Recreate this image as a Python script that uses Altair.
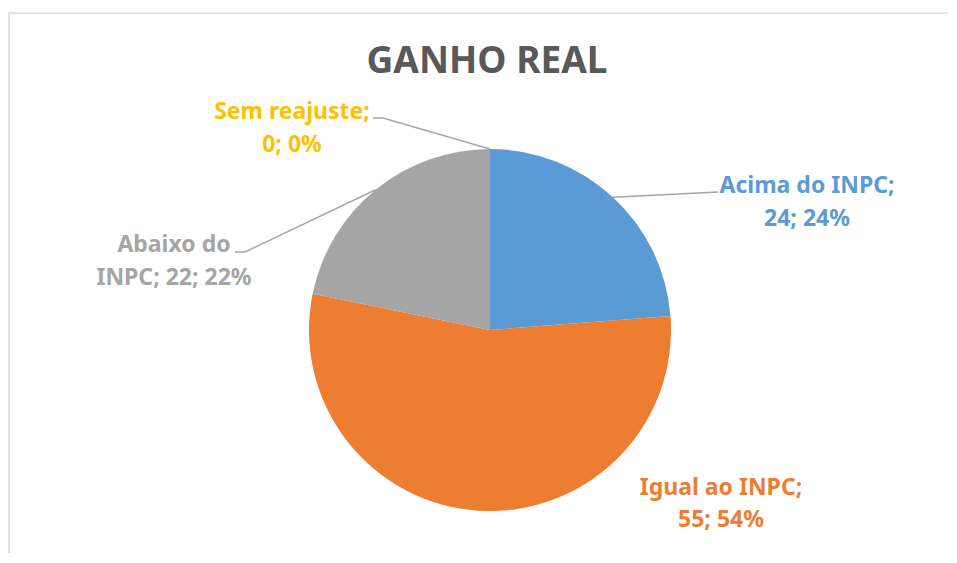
import math
import altair as alt
import pandas as pd

# ---- data ----
categories = ["Acima do INPC", "Igual ao INPC", "Abaixo do INPC", "Sem reajuste"]
values = [24, 55, 22, 0]
colors = ["#5B9BD5", "#ED7D31", "#A5A5A5", "#FFC000"]
title_text = "GANHO REAL"

# ---- layout / style (view pixels) ----
W, H = 940, 545
CX, CY, R = 482, 322, 181
FONT = "Noto Sans"
LABEL_SIZE = 23
first_line_words = [3, 3, 2, 2]
label_anchor = [(799, 185), (713, 487), (166, 244), (284, 111)]  # center x, baseline of line 1
line_gaps = [33, 32, 33, 33]
leader_tail = {0: [(710, 184)], 2: [(237, 244), (227, 244)], 3: [(375, 110), (365, 110)]}
LEADER_COLOR = "#A6A6A6"

total = sum(values)
pcts = [round(v / total * 100) for v in values]

arc_df = pd.DataFrame({"category": categories, "value": values, "ord": range(len(values))})

# text rows
trows = []
for i, c in enumerate(categories):
    full = f"{c}; {values[i]}; {pcts[i]}%"
    words = full.split(" ")
    l1 = " ".join(words[:first_line_words[i]])
    l2 = " ".join(words[first_line_words[i]:])
    x0, y0 = label_anchor[i]
    trows.append({"category": c, "txt": l1, "px": x0, "py": y0})
    trows.append({"category": c, "txt": l2, "px": x0, "py": y0 + line_gaps[i]})
text_df = pd.DataFrame(trows)

# leader lines: start at slice mid-angle on the pie edge
lrows = []
cum = 0
for i, v in enumerate(values):
    mid = (cum + v / 2) / total * 2 * math.pi
    cum += v
    if i not in leader_tail:
        continue
    pts = [(CX + R * math.sin(mid), CY - R * math.cos(mid))] + leader_tail[i]
    for k, (x, y) in enumerate(pts):
        lrows.append({"category": categories[i], "k": k, "px": x, "py": y})
lead_df = pd.DataFrame(lrows)

color_scale = alt.Scale(domain=categories, range=colors)

border = alt.Chart(pd.DataFrame({"a": [0]})).mark_rect(
    fillOpacity=0, stroke="#D9D9D9", strokeWidth=1.5
).encode(x=alt.value(1), y=alt.value(5), x2=alt.value(1400), y2=alt.value(1400))

arcs = alt.Chart(arc_df).mark_arc(outerRadius=R).encode(
    theta=alt.Theta("value:Q", stack=True),
    color=alt.Color("category:N", scale=color_scale, legend=None),
    order=alt.Order("ord:Q"),
    x=alt.value(CX),
    y=alt.value(CY),
)

leaders = alt.Chart(lead_df).mark_line(color=LEADER_COLOR, strokeWidth=1.5).encode(
    x=alt.X("px:Q", scale=None, axis=None),
    y=alt.Y("py:Q", scale=None, axis=None),
    detail="category:N",
    order="k:Q",
)

labels = alt.Chart(text_df).mark_text(
    font=FONT, fontSize=LABEL_SIZE, fontWeight="bold", align="center", baseline="alphabetic"
).encode(
    x=alt.X("px:Q", scale=None, axis=None),
    y=alt.Y("py:Q", scale=None, axis=None),
    text="txt:N",
    color=alt.Color("category:N", scale=color_scale, legend=None),
)

title = alt.Chart(pd.DataFrame({"t": [title_text]})).mark_text(
    font=FONT, fontSize=37, fontWeight="bold", color="#595959", align="center", baseline="alphabetic"
).encode(x=alt.value(479), y=alt.value(65), text="t:N")

chart = alt.layer(border, arcs, leaders, labels, title).properties(
    width=W, height=H, autosize=alt.AutoSizeParams(type="none"), padding=0
).configure_view(stroke=None)

chart.save("out.html", embed_options={"renderer": "svg", "actions": False})
